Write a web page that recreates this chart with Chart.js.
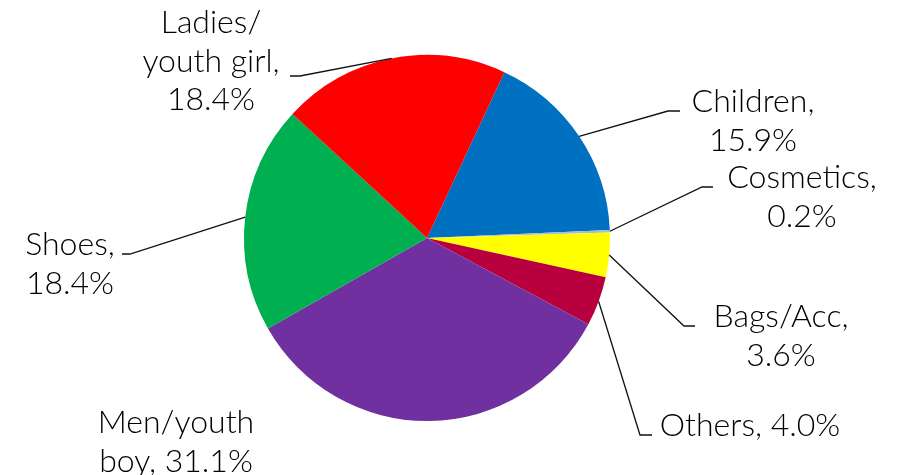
<!DOCTYPE html>
<html>
<head>
<meta charset="utf-8">
<script src="https://cdn.jsdelivr.net/npm/chart.js@4.4.1/dist/chart.umd.min.js"></script>
<style>
    html, body { margin: 0; padding: 0; background: #fff; }
    #salesPie { display: block; }
</style>
</head>
<body>
<canvas id="salesPie" width="903" height="475"></canvas>
<script>
// sales share by category, clockwise from Children
const categories = ['Children', 'Cosmetics', 'Bags/Acc', 'Others', 'Men/youth boy', 'Shoes', 'Ladies/ youth girl'];
const shares = [15.9, 0.2, 3.6, 4.0, 31.1, 18.4, 18.4];
const labelLines = [
    ['Children,', '15.9%'],
    ['Cosmetics,', '0.2%'],
    ['Bags/Acc,', '3.6%'],
    ['Others, 4.0%'],
    ['Men/youth', 'boy, 31.1%'],
    ['Shoes,', '18.4%'],
    ['Ladies/', 'youth girl,', '18.4%'],
];
const sliceColors = ['#0070C0', '#A9BCD3', '#FFFF00', '#B8003E', '#7030A0', '#00B050', '#FF0000'];

// where each label block sits: centre x, first baseline, leader elbow and its short tail
const labelSpots = [
    { cx: 753, y: 112, ex: 668, ey: 111, tx: 680 },
    { cx: 802, y: 188, ex: 702, ey: 187, tx: 713 },
    { cx: 781, y: 327, ex: 684, ey: 326, tx: 695 },
    { cx: 750, y: 436, ex: 640, ey: 435, tx: 652 },
    { cx: 176, y: 433, leader: false },
    { cx: 70,  y: 255, ex: 130, ey: 254, tx: 122 },
    { cx: 211, y: 33,  ex: 300, ey: 76,  tx: 290 },
];

const outsideLabels = {
    id: 'outsideLabels',
    afterDatasetsDraw: (chart) => {
        const ctx = chart.ctx;
        const arcs = chart.getDatasetMeta(0).data;

        ctx.save();
        ctx.font = '300 32px Lato, "DejaVu Sans", sans-serif';
        ctx.fillStyle = '#000';
        ctx.textAlign = 'center';
        ctx.textBaseline = 'alphabetic';
        ctx.strokeStyle = '#111';
        ctx.lineWidth = 1.3;

        arcs.forEach((arc, i) => {
            const spot = labelSpots[i];
            const { x, y, startAngle, endAngle, outerRadius } = arc.getProps(['x', 'y', 'startAngle', 'endAngle', 'outerRadius'], true);

            if (spot.leader !== false) {
                const mid = (startAngle + endAngle) / 2;
                ctx.beginPath();
                ctx.moveTo(x + Math.cos(mid) * outerRadius, y + Math.sin(mid) * outerRadius);
                ctx.lineTo(spot.ex, spot.ey);
                ctx.lineTo(spot.tx, spot.ey);
                ctx.stroke();
            }

            labelLines[i].forEach((line, n) => {
                ctx.fillText(line, spot.cx, spot.y + n * 38.5);
            });
        });

        ctx.restore();
    }
};

const drawPie = () => {
    const ctx = document.getElementById('salesPie').getContext('2d');

    new Chart(ctx, {
        type: 'pie',
        data: {
            labels: categories,
            datasets: [{
                data: shares,
                backgroundColor: sliceColors,
                borderWidth: 0,
            }]
        },
        options: {
            responsive: false,
            animation: false,
            rotation: 25,
            layout: {
                padding: { left: 244, right: 293, top: 55, bottom: 54 }
            },
            plugins: {
                legend: { display: false },
                tooltip: { enabled: false },
            }
        },
        plugins: [outsideLabels]
    });
}

window.onload = () => {
    drawPie();
}
</script>
</body>
</html>
